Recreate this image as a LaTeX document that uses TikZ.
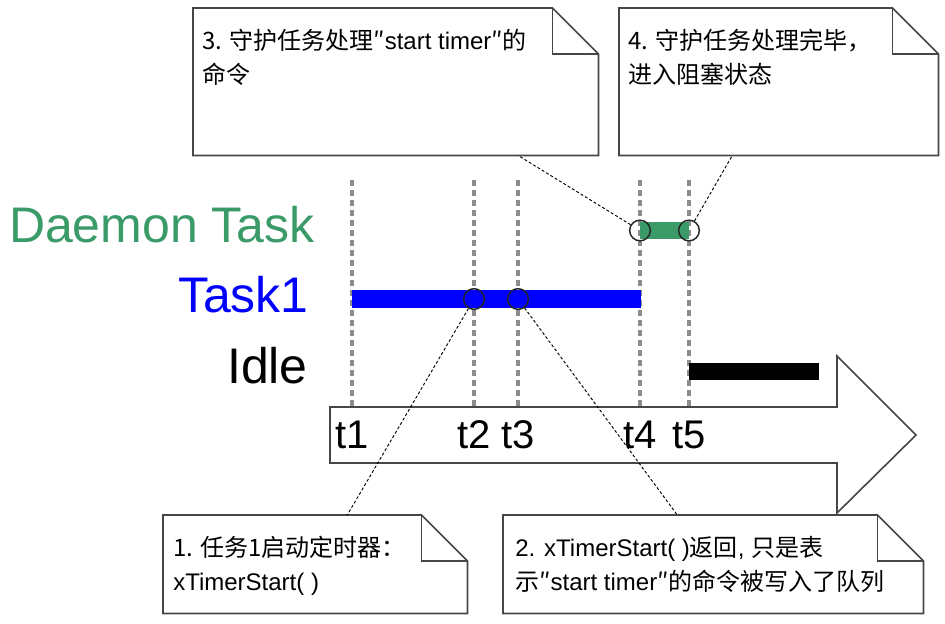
\documentclass[tikz,border=0pt]{standalone}
\usepackage{fontspec}
\setmainfont{Liberation Sans}
\newfontfamily\cjk{Noto Sans CJK SC}
\usepackage{xcolor}
\definecolor{daemongreen}{RGB}{58,155,105}
\definecolor{noteline}{RGB}{70,70,70}

\begin{document}
\begin{tikzpicture}[x=0.75pt,y=-0.75pt]

\tikzset{timeline/.style = {black!45, line width=2.3pt, dash pattern=on 4.5pt off 3pt}}
\tikzset{bar/.style = {line width=13pt}}
\tikzset{point/.style = {shape=circle, draw=black!85, line width=1.1pt, minimum size=15.5pt, inner sep=0pt}}
\tikzset{rowlabel/.style = {anchor=base east, inner sep=0pt, font=\fontsize{37.5}{40}\selectfont}}
\tikzset{tlabel/.style = {anchor=base, inner sep=0pt, font=\fontsize{30}{34}\selectfont}}
\tikzset{note/.style = {shape=rectangle, anchor=north west, inner sep=0pt}}
\tikzset{notetext/.style = {anchor=north west, inner sep=0pt, align=left, font=\fontsize{18}{25.5}\selectfont}}
\tikzset{callout/.style = {black, line width=0.7pt, dash pattern=on 2.2pt off 1.6pt}}

\useasboundingbox (0,0) rectangle (945,624);

%time lines
\foreach \x in {352,474,518,640,689}
  \draw[timeline] (\x,180) -- (\x,407);

%time axis
\draw[fill=white, draw=noteline, line width=1.2pt] (330,407) -- (837,407) -- (837,356) -- (916,435)
  -- (837,513) -- (837,463) -- (330,463) -- cycle;
\node[tlabel] (t1) at (352,448) {t1};
\node[tlabel] (t2) at (474,448) {t2};
\node[tlabel] (t3) at (518,448) {t3};
\node[tlabel] (t4) at (640,448) {t4};
\node[tlabel] (t5) at (689,448) {t5};

%rows
\node[rowlabel, daemongreen] (daemon) at (315,242) {Daemon Task};
\node[rowlabel, blue] (task1) at (309,312) {Task1};
\node[rowlabel, black] (idle) at (308,383) {Idle};

\draw[bar, blue] (352,299) -- (641,299);
\draw[bar, daemongreen] (640,230.5) -- (689,230.5);
\draw[bar, black] (689,371.5) -- (819,371.5);

\node[point] (c2) at (474,299) {};
\node[point] (c3) at (518,299) {};
\node[point] (c4) at (640,230.5) {};
\node[point] (c5) at (689,230.5) {};

%notes
\node[note, minimum width=303.75pt, minimum height=110.25pt] (n3) at (193,8) {};
\node[note, minimum width=239.25pt, minimum height=110.25pt] (n4) at (619,8) {};
\node[note, minimum width=228pt, minimum height=73.5pt] (n1) at (163,515) {};
\node[note, minimum width=315pt, minimum height=73.5pt] (n2) at (503,515) {};

\foreach \n in {n1,n2,n3,n4} {
  \draw[noteline, line width=1.2pt] (\n.south west) -- (\n.north west) -- ([shift={(-46,0)}]\n.north east)
    -- ([shift={(0,46)}]\n.north east) -- (\n.south east) -- cycle;
  \draw[noteline, line width=1.2pt] ([shift={(-46,0)}]\n.north east) |- ([shift={(0,46)}]\n.north east);
}

\node[notetext] (n3text) at ([shift={(9,21)}]n3.north west)
  {{\cjk 3. 守护任务处理″}start timer{\cjk ″的}\\{\cjk 命令}};
\node[notetext] (n4text) at ([shift={(9,21)}]n4.north west)
  {{\cjk 4. 守护任务处理完毕，}\\{\cjk 进入阻塞状态}};
\node[notetext] (n1text) at ([shift={(10,21)}]n1.north west)
  {{\cjk 1. 任务1启动定时器：}\\xTimerStart( )};
\node[notetext] (n2text) at ([shift={(12,21)}]n2.north west)
  {2. xTimerStart( ){\cjk 返回}, {\cjk 只是表}\\{\cjk 示″}start timer{\cjk ″的命令被写入了队列}};

%edges
\draw[callout] (c2) -- ([shift={(32,0)}]n1.north);
\draw[callout] (c3) -- ([shift={(-36,0)}]n2.north);
\draw[callout] (c4) -- ([shift={(122.5,0)}]n3.south);
\draw[callout] (c5) -- ([shift={(-46.5,0)}]n4.south);
\end{tikzpicture}
\end{document}
